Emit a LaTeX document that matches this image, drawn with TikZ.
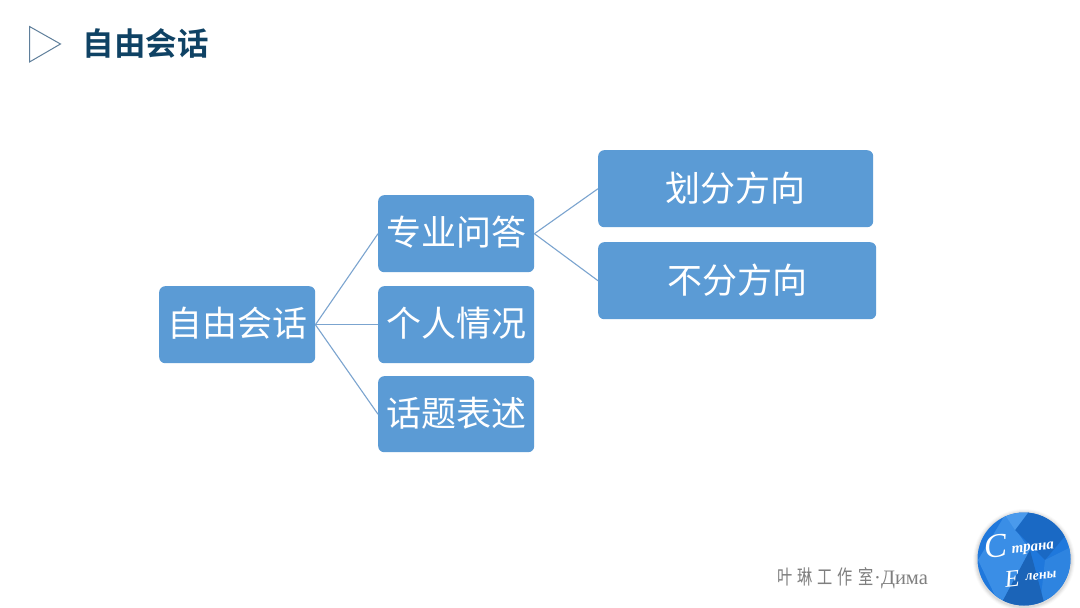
\documentclass[tikz,border=0pt]{standalone}
\usepackage{fontspec}
\usepackage{graphicx}
\newfontfamily\cjk{Noto Sans CJK SC}
\newfontfamily\cjkb{Noto Sans CJK SC Bold}
\newfontfamily\serifcyr{Liberation Serif}
\definecolor{boxblue}{HTML}{5B9BD5}
\definecolor{linkblue}{HTML}{7BA4CF}
\definecolor{titleblue}{HTML}{0F4264}
\definecolor{tri}{HTML}{5F7F9B}
\definecolor{foot}{HTML}{7F7F7F}
\definecolor{logoA}{HTML}{1F78DC}
\definecolor{logoB}{HTML}{3A8EE6}
\definecolor{logoC}{HTML}{1A69C4}
\definecolor{logoD}{HTML}{2E84E0}
\definecolor{logoE}{HTML}{1B64B8}
\definecolor{logoF}{HTML}{4A9AEC}
\tikzset{
  mapbox/.style={fill=boxblue,draw=none,rounded corners=6pt,anchor=north west,inner sep=0pt,
    text=white,font=\fontsize{35}{35}\selectfont\cjk,align=center},
  link/.style={draw=linkblue,line width=1.1pt}
}
\newcommand{\boxtext}[1]{\raisebox{5pt}{#1}}
\begin{document}
\begin{tikzpicture}[x=1pt,y=-1pt]
\useasboundingbox (0,0) rectangle (1080,608);
\fill[white] (0,0) rectangle (1080,608);
% header
\draw[tri,line width=1pt,line join=miter] (29.5,26.5) -- (60.5,44) -- (29.5,62) -- cycle;
\node[anchor=center,text=titleblue,font=\fontsize{31.5}{31.5}\selectfont\cjkb,inner sep=0pt] (title) at (145.5,43) {自由会话};
% boxes
\node[mapbox,minimum width=156pt,minimum height=77pt] (root) at (159,286) {\boxtext{自由会话}};
\node[mapbox,minimum width=156pt,minimum height=77pt] (b1) at (378,195) {\boxtext{专业问答}};
\node[mapbox,minimum width=156pt,minimum height=77pt] (b2) at (378,286) {\boxtext{个人情况}};
\node[mapbox,minimum width=156pt,minimum height=76pt] (b3) at (378,376) {\boxtext{话题表述}};
\node[mapbox,minimum width=275pt,minimum height=77pt] (c1) at (598,150) {\boxtext{划分方向}};
\node[mapbox,minimum width=278pt,minimum height=77pt] (c2) at (598,242) {\boxtext{不分方向}};
% connectors
\draw[link] (root.east) -- (b1.west);
\draw[link] (root.east) -- (b2.west);
\draw[link] (root.east) -- (b3.west);
\draw[link] (b1.east) -- (c1.west);
\draw[link] (b1.east) -- (c2.west);
% footer
\node[anchor=west,inner sep=0pt,text=foot] (credit) at (777,578)
 {\fontsize{20}{20}\selectfont\cjk\scalebox{.76}[1]{叶}\hspace{5pt}\scalebox{.76}[1]{琳}\hspace{5pt}\scalebox{.76}[1]{工}\hspace{5pt}\scalebox{.76}[1]{作}\hspace{5pt}\scalebox{.76}[1]{室}\hspace{1pt}{\serifcyr\fontsize{20.5}{20.5}\selectfont ·Дима}};
% logo
\foreach \r/\o in {51/.02,50/.03,49/.04,48/.05}{\fill[black,opacity=\o] (1024,560) circle (\r);}
\begin{scope}
\clip (1024,559) circle (46.5);
\fill[logoA] (970,505) rectangle (1080,610);
\fill[logoB] (978,560) -- (1005,515) -- (1030,550) -- (1000,606) -- cycle;
\fill[logoC] (1030,510) -- (1070,530) -- (1045,560) -- (1015,530) -- cycle;
\fill[logoD] (1045,560) -- (1075,545) -- (1075,600) -- (1040,606) -- cycle;
\fill[logoE] (1000,606) -- (1030,550) -- (1045,606) -- cycle;
\fill[logoF] (1005,515) -- (1030,510) -- (1015,530) -- cycle;
\end{scope}
\node[text=white,inner sep=0pt,rotate=6,font=\serifcyr\itshape\fontsize{34}{34}\selectfont] (logoc) at (996,546) {С};
\node[text=white,inner sep=0pt,rotate=6,font=\serifcyr\itshape\bfseries\fontsize{15}{15}\selectfont] (logoa) at (1033,549) {трана};
\node[text=white,inner sep=0pt,rotate=6,font=\serifcyr\itshape\fontsize{24}{24}\selectfont] (logoe) at (1012,579) {Е};
\node[text=white,inner sep=0pt,rotate=6,font=\serifcyr\itshape\bfseries\fontsize{14}{14}\selectfont] (logob) at (1041,576) {лены};
\end{tikzpicture}
\end{document}
